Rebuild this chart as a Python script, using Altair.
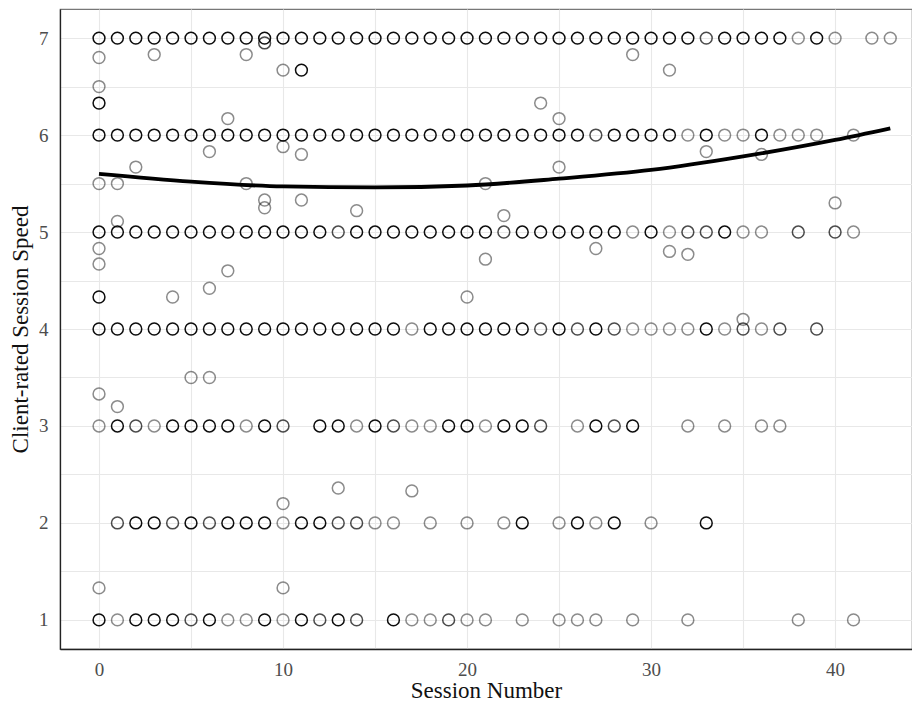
import altair as alt
import pandas as pd

# ---- data ----
# integer ratings: session numbers present in each row and darkness level (1 light, 2 medium, 3 dark)
r7_sessions = list(range(0, 41)) + [42, 43]
r7_levels = [3] * 33 + [2, 3, 3, 3, 3, 1, 3, 1, 1, 1]

r6_sessions = list(range(0, 40)) + [41]
r6_levels = [3] * 27 + [2, 3, 3, 3, 3] + [1, 3, 1, 1, 3, 1, 1, 1, 1]

r5_sessions = list(range(0, 37)) + [38, 40, 41]
r5_levels = ([3] * 13 + [2] + [3] * 8 + [2] + [3] * 6 +
             [1, 3, 1, 2, 2, 3, 1, 1, 2, 2, 1])

r4_sessions = list(range(0, 38)) + [39]
r4_levels = ([3] * 17 + [1] + [3] * 6 +
             [2, 3, 2, 3, 2, 1, 1, 1, 1, 3, 1, 2, 1, 2, 2])

r3_sessions = (list(range(0, 11)) + list(range(12, 25)) + [26, 27, 28, 29, 32, 34, 36, 37])
r3_levels = [1, 3, 2, 1, 3, 3, 3, 3, 1, 3, 2,
             3, 3, 1, 3, 2, 1, 1, 3, 3, 1, 3, 3, 2,
             1, 3, 2, 3, 1, 1, 1, 1]

r2_sessions = list(range(1, 17)) + [18, 20, 22, 23, 25, 26, 27, 28, 30, 33]
r2_levels = [2, 3, 3, 2, 3, 2, 3, 3, 3, 1, 3, 3, 2, 2, 1, 1,
             1, 1, 1, 3, 1, 3, 1, 3, 1, 3]

r1_sessions = list(range(0, 15)) + [16, 17, 18, 19, 20, 21, 23, 25, 26, 27, 29, 32, 38, 41]
r1_levels = [3, 1, 3, 3, 3, 2, 3, 1, 1, 3, 1, 3, 2, 3, 2,
             3, 1, 1, 2, 1, 1, 1, 1, 1, 1, 1, 1, 1, 1]

# fractional (averaged) ratings
frac_session = [0, 3, 8, 9, 10, 11, 0, 0, 7, 6, 10, 11, 2, 0, 1, 8, 9, 9, 11, 14, 1,
                0, 0, 7, 6, 4, 0, 29, 31, 24, 25, 33, 36, 25, 21, 22, 40, 27, 31, 32,
                21, 20, 35, 5, 6, 0, 1, 10, 13, 17, 0, 10]
frac_rating = [6.80, 6.83, 6.83, 6.95, 6.67, 6.67, 6.50, 6.33, 6.17, 5.83, 5.88, 5.80,
               5.67, 5.50, 5.50, 5.50, 5.33, 5.25, 5.33, 5.22, 5.11,
               4.83, 4.67, 4.60, 4.42, 4.33, 4.33, 6.83, 6.67, 6.33, 6.17, 5.83, 5.80,
               5.67, 5.50, 5.17, 5.30, 4.83, 4.80, 4.77, 4.72, 4.33, 4.10,
               3.50, 3.50, 3.33, 3.20, 2.20, 2.36, 2.33, 1.33, 1.33]
frac_levels = [1, 1, 1, 2, 1, 3, 1, 3, 1, 1, 1, 1, 1, 1, 1, 1, 1, 1, 1, 1, 1,
               1, 1, 1, 1, 1, 3, 1, 1, 1, 1, 1, 1, 1, 1, 1, 1, 1, 1, 1,
               1, 1, 1, 1, 1, 1, 1, 1, 1, 1, 1, 1]

# fitted curve, read at a few sessions
curve_session = [0, 5, 10, 15, 20, 25, 30, 35, 40, 43]
curve_rating = [5.60, 5.52, 5.47, 5.46, 5.48, 5.55, 5.64, 5.78, 5.95, 6.07]

# ---- build tables ----
rows = []
for rating, ss, lv in [(7, r7_sessions, r7_levels), (6, r6_sessions, r6_levels),
                       (5, r5_sessions, r5_levels), (4, r4_sessions, r4_levels),
                       (3, r3_sessions, r3_levels), (2, r2_sessions, r2_levels),
                       (1, r1_sessions, r1_levels)]:
    for s, l in zip(ss, lv):
        rows.append({"session": s, "rating": rating, "level": l})
for s, r, l in zip(frac_session, frac_rating, frac_levels):
    rows.append({"session": s, "rating": r, "level": l})
points = pd.DataFrame(rows)
curve = pd.DataFrame({"session": curve_session, "rating": curve_rating})

FONT = "Liberation Serif"
xscale = alt.Scale(domain=[-2.12, 44.18], nice=False, zero=False)
yscale = alt.Scale(domain=[0.70, 7.30], nice=False, zero=False)

x_axis = alt.Axis(values=[0, 5, 10, 15, 20, 25, 30, 35, 40],
                  labelExpr="datum.value % 10 == 0 ? format(datum.value, 'd') : ''",
                  ticks=False, tickSize=0, labelPadding=11, titlePadding=0,
                  domainColor="#222222", domainWidth=1.3)
y_axis = alt.Axis(values=[1, 1.5, 2, 2.5, 3, 3.5, 4, 4.5, 5, 5.5, 6, 6.5, 7],
                  labelExpr="datum.value % 1 == 0 ? format(datum.value, 'd') : ''",
                  ticks=False, tickSize=0, labelPadding=12, titlePadding=6,
                  domainColor="#222222", domainWidth=1.3)

pts = alt.Chart(points).mark_point(shape="circle", filled=False, color="black",
                                   size=140, strokeWidth=1.5).encode(
    x=alt.X("session:Q", scale=xscale, axis=x_axis, title="Session Number"),
    y=alt.Y("rating:Q", scale=yscale, axis=y_axis, title="Client-rated Session Speed"),
    opacity=alt.Opacity("level:Q", scale=alt.Scale(domain=[1, 2, 3], range=[0.45, 0.7, 0.95]),
                        legend=None),
)

line = alt.Chart(curve).mark_line(color="black", strokeWidth=3.8, interpolate="monotone").encode(
    x=alt.X("session:Q", scale=xscale),
    y=alt.Y("rating:Q", scale=yscale),
)

chart = alt.layer(pts, line).properties(
    width=852, height=640,
    autosize=alt.AutoSizeParams(type="none"),
    padding={"left": 52, "top": 1, "right": 0, "bottom": 56},
).configure(
    font=FONT,
).configure_axis(
    labelFont=FONT, titleFont=FONT, labelFontSize=19, titleFontSize=23,
    labelColor="#4d4d4d", titleColor="#111111", titleFontWeight="normal",
    grid=True, gridColor="#e8e8e8", gridWidth=1.1,
).configure_view(
    stroke="#777777", strokeWidth=1.2,
)

chart.save("out.html", embed_options={"renderer": "svg", "actions": False})
